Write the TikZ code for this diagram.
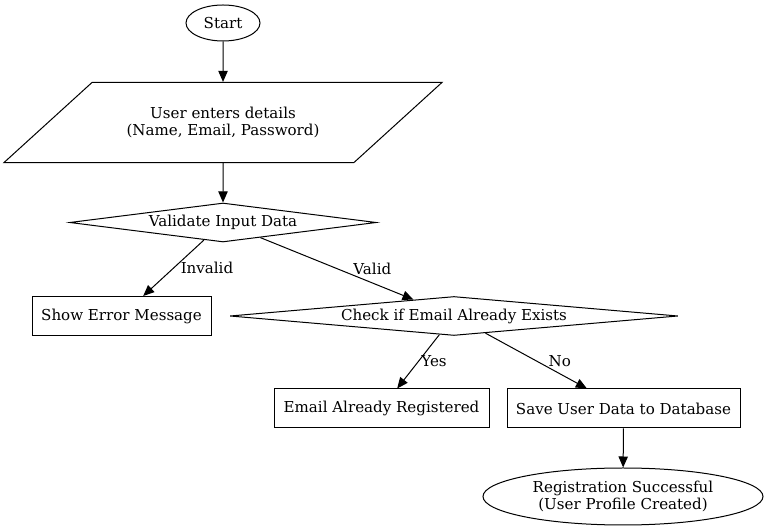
\documentclass[tikz,border=0pt]{standalone}
\usepackage{fontspec}
\setmainfont{DejaVu Serif}
\usetikzlibrary{arrows.meta,shapes.geometric}

\tikzset{
    every picture/.style={x=0.75pt,y=-0.75pt,line width=0.75pt},
    every node/.style={font=\fontsize{11.3}{12.75}\selectfont},
    term/.style={draw,ellipse,inner sep=0pt,align=center},
    io/.style={draw,trapezium,trapezium left angle=42.3,trapezium right angle=137.7,
        trapezium stretches body=true,inner xsep=0pt,inner ysep=18.5pt,align=center,
        minimum width=328.5pt},
    decide/.style={draw,diamond,aspect=10,inner sep=0pt,minimum height=29.25pt},
    box/.style={draw,rectangle,inner sep=0pt,minimum height=29.25pt},
    lbl/.style={anchor=west,inner sep=0pt},
    flow/.style={-{Triangle[length=8.25pt,width=7pt]}}
}

\begin{document}
\begin{tikzpicture}
    \useasboundingbox (0,0) rectangle (768,530);

    \node[term,minimum width=55.5pt,minimum height=27pt] (start) at (223,23) {Start};
    \node[io] (input) at (223,122.5) {User enters details\\(Name, Email, Password)};
    \node[decide,minimum width=230pt] (validate) at (223,222.5) {Validate Input Data};

    \node[box,minimum width=134.25pt] (error) at (121.5,316) {Show Error Message};
    \node[decide,minimum width=336pt] (check) at (454,316) {Check if Email Already Exists};

    \node[box,minimum width=161.25pt] (registered) at (381.5,408.5) {Email Already Registered};
    \node[box,minimum width=174.75pt] (save) at (623.5,408.5) {Save User Data to Database};
    \node[term,minimum width=210pt,minimum height=42.75pt] (done) at (623,496.5)
        {Registration Successful\\(User Profile Created)};

    \path
        (start)
            edge [flow] (input)
        (input)
            edge [flow] (validate)
        (validate)
            edge [flow] node[lbl,xshift=5pt] {Invalid} (error)
            edge [flow] node[lbl,xshift=12pt] {Valid} (check)
        (check)
            edge [flow] node[lbl,xshift=2pt] {Yes} (registered)
            edge [flow] node[lbl,xshift=9pt] {No} (save)
        (save)
            edge [flow] (done)
    ;
\end{tikzpicture}
\end{document}
